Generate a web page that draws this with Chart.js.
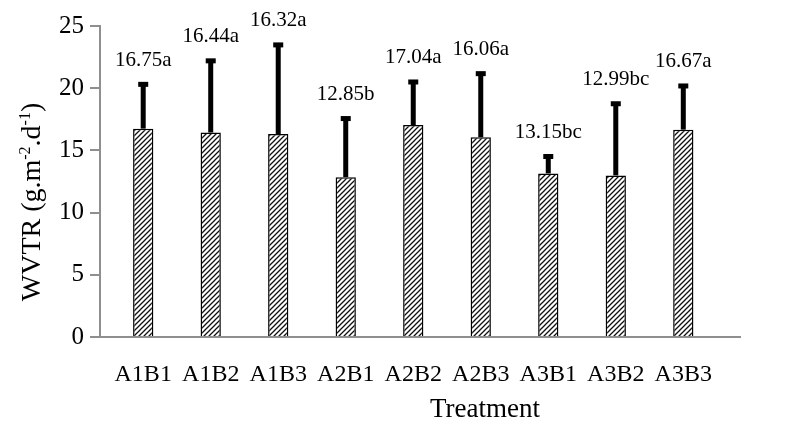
<!DOCTYPE html>
<html>
<head>
<meta charset="utf-8">
<script src="https://cdn.jsdelivr.net/npm/chart.js@4.4.0/dist/chart.umd.min.js"></script>
<style>
  html, body { margin: 0; padding: 0; background: #fff; }
  #wrap { width: 801px; height: 423px; }
</style>
</head>
<body>
<div id="wrap"><canvas id="wvtr-chart"></canvas></div>
<script>
const treatments = ["A1B1", "A1B2", "A1B3", "A2B1", "A2B2", "A2B3", "A3B1", "A3B2", "A3B3"];
const wvtrMeans = [16.75, 16.44, 16.32, 12.85, 17.04, 16.06, 13.15, 12.99, 16.67];
const wvtrErrors = [3.6, 5.8, 7.2, 4.75, 3.5, 5.15, 1.4, 5.8, 3.55];
const groupLetters = ["a", "a", "a", "b", "a", "a", "bc", "bc", "a"];
const yMin = 0, yMax = 25, yStep = 5;
// treatment positions run 0..8; the axis leaves a little room on both ends
const xMin = -0.64, xMax = 8.84;

const serif = '"Liberation Serif", "Times New Roman", serif';
const axisGray = '#8f8f8f';

// diagonal hatch fill for the bars
function hatchPattern() {
  var tile = document.createElement('canvas');
  tile.width = 5;
  tile.height = 5;
  var c = tile.getContext('2d');
  c.fillStyle = '#fff';
  c.fillRect(0, 0, 5, 5);
  c.strokeStyle = '#111';
  c.lineWidth = 1.3;
  c.beginPath();
  c.moveTo(0, 5); c.lineTo(5, 0);
  c.moveTo(-1, 1); c.lineTo(1, -1);
  c.moveTo(4, 6); c.lineTo(6, 4);
  c.stroke();
  return c.createPattern(tile, 'repeat');
}

// error bars (upper half only) with the mean + letter label above the cap
const errorBars = {
  id: 'errorBars',
  afterDatasetsDraw(chart) {
    var ctx = chart.ctx;
    var y = chart.scales.y;
    var bars = chart.getDatasetMeta(0).data;
    ctx.save();
    ctx.fillStyle = '#000';
    ctx.font = '21px ' + serif;
    ctx.textAlign = 'center';
    ctx.textBaseline = 'alphabetic';
    bars.forEach(function(bar, i) {
      var top = y.getPixelForValue(wvtrMeans[i] + wvtrErrors[i]);
      ctx.fillRect(bar.x - 2.5, top, 5, bar.y - top);
      ctx.fillRect(bar.x - 5, top - 2, 10, 5);
      ctx.fillText(wvtrMeans[i].toFixed(2) + groupLetters[i], bar.x, top - 18);
    });
    ctx.restore();
  }
};

// axis titles; the y title needs superscripts so it is drawn by hand
const axisTitles = {
  id: 'axisTitles',
  afterDraw(chart) {
    var ctx = chart.ctx;
    var area = chart.chartArea;
    var big = '28px ' + serif;
    var small = '16px ' + serif;
    var parts = [
      { t: 'WVTR (g.m', f: big, dy: 0 },
      { t: '-2', f: small, dy: -10 },
      { t: '.d', f: big, dy: 0 },
      { t: '-1', f: small, dy: -10 },
      { t: ')', f: big, dy: 0 }
    ];
    ctx.save();
    ctx.fillStyle = '#000';
    var total = 0;
    parts.forEach(function(p) { ctx.font = p.f; p.w = ctx.measureText(p.t).width; total += p.w; });
    ctx.translate(40, 202);
    ctx.rotate(-Math.PI / 2);
    ctx.textBaseline = 'alphabetic';
    ctx.textAlign = 'left';
    var x = -total / 2;
    parts.forEach(function(p) {
      ctx.font = p.f;
      ctx.fillText(p.t, x, p.dy);
      x += p.w;
    });
    ctx.restore();

    ctx.save();
    ctx.fillStyle = '#000';
    ctx.font = '27px ' + serif;
    ctx.textAlign = 'center';
    ctx.textBaseline = 'alphabetic';
    ctx.fillText('Treatment', (area.left + area.right) / 2 + 65, 417);
    ctx.restore();
  }
};

var wvtrChart = new Chart(document.getElementById('wvtr-chart'), {
  type: 'bar',
  data: {
    datasets: [{
      data: wvtrMeans.map(function(v, i) { return { x: i, y: v }; }),
      backgroundColor: hatchPattern(),
      borderColor: '#000',
      borderWidth: 1.5,
      borderSkipped: 'bottom',
      barPercentage: 0.3,
      categoryPercentage: 1
    }]
  },
  options: {
    responsive: true,
    maintainAspectRatio: false,
    animation: false,
    layout: { padding: { top: 26, right: 61, left: 0, bottom: 0 } },
    plugins: {
      legend: { display: false },
      tooltip: { enabled: false }
    },
    scales: {
      x: {
        type: 'linear',
        offset: false,
        min: xMin,
        max: xMax,
        grid: { display: false },
        border: { display: true, color: axisGray, width: 2 },
        ticks: {
          stepSize: 1,
          includeBounds: false,
          autoSkip: false,
          maxRotation: 0,
          color: '#000',
          font: { family: serif, size: 24 },
          padding: 15,
          callback: function(v) { return treatments[v] || ''; }
        },
        afterFit: function(scale) { scale.height = 86; }
      },
      y: {
        min: yMin,
        max: yMax,
        grid: { drawOnChartArea: false, drawTicks: true, tickLength: 10, color: axisGray, lineWidth: 2 },
        border: { display: true, color: axisGray, width: 2 },
        ticks: { stepSize: yStep, color: '#000', font: { family: serif, size: 25 }, padding: 6 },
        afterFit: function(scale) { scale.width = 100; }
      }
    }
  },
  plugins: [errorBars, axisTitles]
});
</script>
</body>
</html>
